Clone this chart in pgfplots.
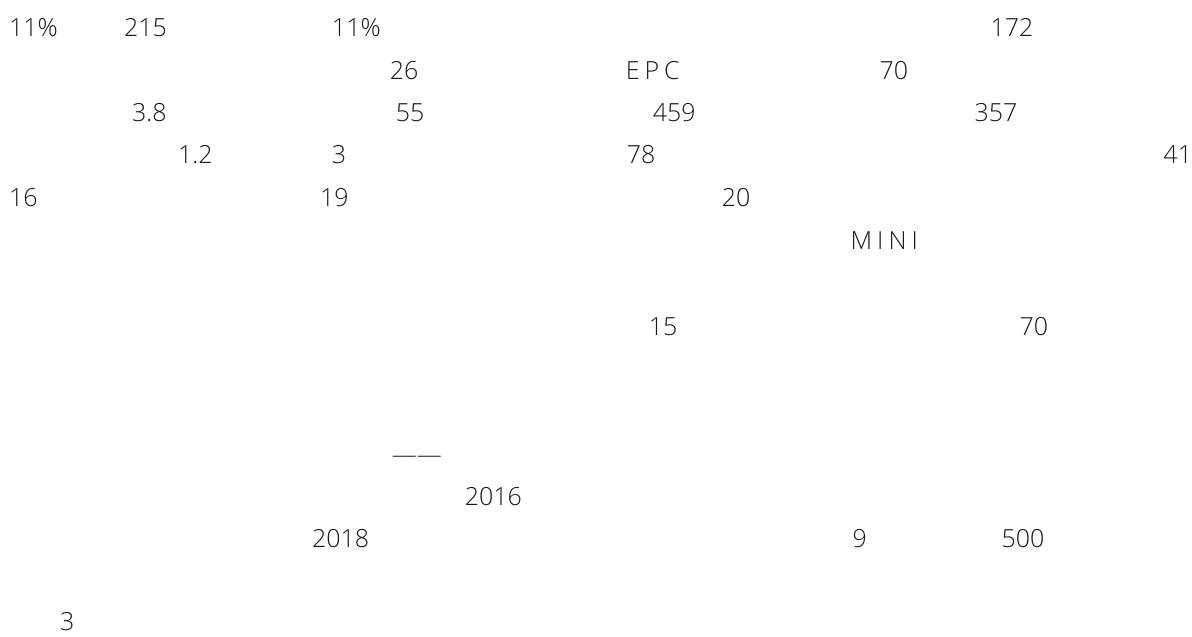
\documentclass[border=0pt]{standalone}
\usepackage{pgfplots}
\pgfplotsset{compat=1.18}
\usepackage{fontspec}
\setmainfont{Open Sans Light}
\newfontfamily\spaced[LetterSpace=20]{Open Sans Light}
\begin{document}
\begin{tikzpicture}
\begin{axis}[hide axis, scale only axis, width=1192pt, height=637pt,
  xmin=0, xmax=1192, ymin=0, ymax=637, y dir=reverse, clip=false]
\addplot[draw=none, mark=none] coordinates {(0,0) (1192,637)};
\tikzset{t/.style={anchor=base west, inner sep=0pt, font=\fontsize{25}{30}\selectfont, text=black!90}}
% row 1
\node[t] at (axis cs:9,37) {11\%};
\node[t] at (axis cs:124,37) {215};
\node[t] at (axis cs:332,37) {11\%};
\node[t] at (axis cs:991,37) {172};
% row 2
\node[t] at (axis cs:390,80) {26};
\node[t] at (axis cs:626,80) {\spaced EPC};
\node[t] at (axis cs:880,80) {70};
% row 3
\node[t] at (axis cs:132,122) {3.8};
\node[t] at (axis cs:396,122) {55};
\node[t] at (axis cs:653,122) {459};
\node[t] at (axis cs:975,122) {357};
% row 4
\node[t] at (axis cs:178,164) {1.2};
\node[t] at (axis cs:332,164) {3};
\node[t] at (axis cs:627,164) {78};
\node[t] at (axis cs:1164,164) {41};
% row 5
\node[t] at (axis cs:9,207) {16};
\node[t] at (axis cs:320,207) {19};
\node[t] at (axis cs:722,207) {20};
% row 6
\node[t] at (axis cs:851,250) {\spaced MINI};
% row 7
\node[t] at (axis cs:649,336) {15};
\node[t] at (axis cs:1020,336) {70};
% lower rows
\node[t] at (axis cs:392,464) {——};
\node[t] at (axis cs:465,506) {2016};
\node[t] at (axis cs:312,548) {2018};
\node[t] at (axis cs:853,548) {9};
\node[t] at (axis cs:1002,548) {500};
\node[t] at (axis cs:60,631) {3};
\end{axis}
\end{tikzpicture}
\end{document}
